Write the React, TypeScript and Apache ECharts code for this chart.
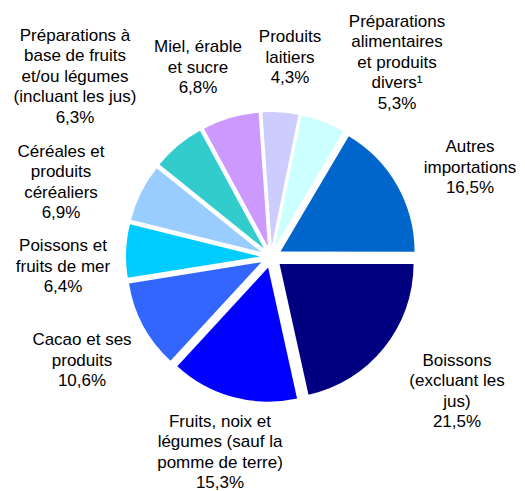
import React, { useEffect, useRef } from "react";
import * as echarts from "echarts";

const CATEGORIES = [
  "Produits\nlaitiers",
  "Préparations\nalimentaires\net produits\ndivers¹",
  "Autres\nimportations",
  "Boissons\n(excluant les\njus)",
  "Fruits, noix et\nlégumes (sauf la\npomme de terre)",
  "Cacao et ses\nproduits",
  "Poissons et\nfruits de mer",
  "Céréales et\nproduits\ncéréaliers",
  "Préparations à\nbase de fruits\net/ou légumes\n(incluant les jus)",
  "Miel, érable\net sucre",
];

const VALUES = [4.3, 5.3, 16.5, 21.5, 15.3, 10.6, 6.4, 6.9, 6.3, 6.8];

const COLORS = [
  "#CCCCFF",
  "#CCFFFF",
  "#0066CC",
  "#000080",
  "#0000FF",
  "#3366FF",
  "#00CCFF",
  "#99CCFF",
  "#33CCCC",
  "#CC99FF",
];

// label centres (layout only), in page pixels
const LABEL_POS: [number, number][] = [
  [290, 57],
  [397, 62],
  [470, 167],
  [457, 391],
  [220, 452],
  [82, 360],
  [63, 266],
  [61, 182],
  [75, 76],
  [198, 67],
];

const fmt = (v: number) => `${v.toFixed(1).replace(".", ",")}%`;

export default function App() {
  const ref = useRef<HTMLDivElement>(null);
  useEffect(() => {
    if (!ref.current) return;
    const chart = echarts.init(ref.current, undefined, { renderer: "svg" });
    chart.setOption({
      animation: false,
      backgroundColor: "#ffffff",
      series: [
        {
          type: "pie",
          center: [271, 257],
          radius: [0, 134],
          startAngle: 94,
          clockwise: true,
          selectedMode: "multiple",
          selectedOffset: 11,
          emphasis: { disabled: true },
          itemStyle: { borderWidth: 0 },
          label: { show: false },
          labelLine: { show: false },
          data: CATEGORIES.map((name, i) => ({
            name,
            value: VALUES[i],
            selected: true,
            itemStyle: { color: COLORS[i] },
            select: { itemStyle: { color: COLORS[i] } },
          })),
        },
      ],
      graphic: CATEGORIES.map((name, i) => ({
        type: "text",
        x: LABEL_POS[i][0],
        y: LABEL_POS[i][1],
        silent: true,
        style: {
          text: `${name}\n${fmt(VALUES[i])}`,
          textAlign: "center",
          textVerticalAlign: "middle",
          fontFamily: "'Liberation Sans', Arial, sans-serif",
          fontSize: 17,
          lineHeight: 20.5,
          fill: "#000000",
        },
      })),
    });
    return () => chart.dispose();
  }, []);
  return (
    <div
      ref={ref}
      style={{ position: "absolute", left: 0, top: 0, width: 525, height: 491 }}
    />
  );
}
